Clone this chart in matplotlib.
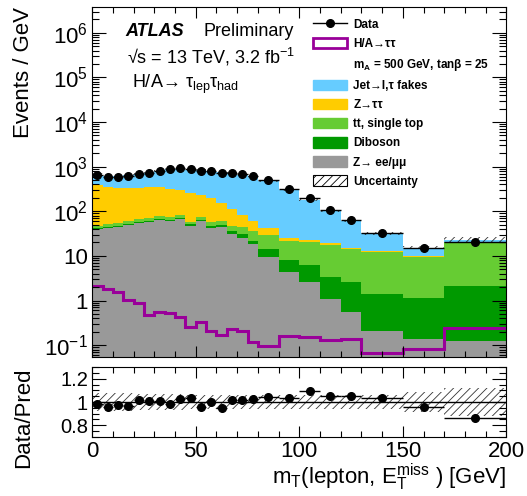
import numpy as np
import matplotlib
matplotlib.use('Agg')
import matplotlib.pyplot as plt
from matplotlib.patches import Patch
from matplotlib.lines import Line2D
from matplotlib.ticker import MultipleLocator, FuncFormatter, FixedLocator

plt.rcParams['font.family'] = ['Liberation Sans', 'DejaVu Sans']
plt.rcParams['mathtext.fontset'] = 'custom'
plt.rcParams['mathtext.rm'] = 'Liberation Sans'
plt.rcParams['mathtext.it'] = 'Liberation Sans:italic'
plt.rcParams['mathtext.bf'] = 'Liberation Sans:bold'
plt.rcParams['hatch.linewidth'] = 0.6

# bin edges in mT [GeV]
edges = [0, 5, 10, 15, 20, 25, 30, 35, 40, 45, 50, 55, 60, 65, 70, 75, 80,
         90, 100, 110, 120, 130, 150, 170, 200]

# events / GeV
data = [648, 594, 594, 625, 682, 730, 809, 869, 916, 869, 797, 797, 730, 730,
        672, 615, 501, 315, 195, 106, 63.5, 33, 14.7, 20.1]
zll = [39.9, 42.0, 44.2, 49.0, 54.4, 57.3, 63.5, 60.3, 66.8, 47.3, 60.3, 42.7,
       44.9, 30.8, 25.5, 18.4, 9.5, 4.4, 2.6, 1.1, 0.56, 0.21, 0.136, 0.123]
diboson = [2.8, 2.9, 3.1, 3.4, 3.8, 3.9, 4.4, 4.2, 4.7, 3.5, 4.8, 3.9, 4.1,
           4.6, 4.8, 3.4, 4.5, 3.6, 3.6, 2.3, 2.0, 1.18, 1.03, 1.98]
top = [5.1, 6.7, 7.1, 7.0, 7.6, 8.1, 8.9, 8.5, 9.4, 7.3, 9.0, 9.8, 11.3, 11.9,
       13.9, 14.7, 15.3, 13.5, 14.5, 14.1, 11.6, 10.8, 8.3, 18.0]
ztt = [339, 291, 272, 267, 270, 274, 277, 237, 218, 194, 157, 139, 90, 63, 38,
       24.7, 12.1, 4.0, 1.9, 1.6, 1.0, 0.6, 0.55, 0.1]
fakes = [270, 276, 285, 320, 333, 383, 450, 571, 592, 589, 605, 602, 618, 610,
         581, 537, 440, 279, 156, 82, 45.4, 19.1, 5.35, 3.0]
signal = [2.14, 1.80, 1.57, 1.02, 0.89, 0.47, 0.56, 0.53, 0.42, 0.257, 0.33,
          0.209, 0.168, 0.228, 0.209, 0.119, 0.095, 0.159, 0.15, 0.129, 0.136,
          0.067, 0.081, 0.237]
# relative uncertainty of the prediction
unc = [0.08, 0.08, 0.08, 0.08, 0.07, 0.07, 0.07, 0.07, 0.07, 0.06, 0.06, 0.06,
       0.06, 0.06, 0.06, 0.06, 0.06, 0.06, 0.06, 0.06, 0.06, 0.06, 0.09, 0.12]

edges = np.array(edges, dtype=float)
centers = 0.5 * (edges[1:] + edges[:-1])
halfw = 0.5 * (edges[1:] - edges[:-1])
data = np.array(data)
unc = np.array(unc)

fig = plt.figure(figsize=(5.27, 4.96), dpi=100)
ax = fig.add_axes([0.175, 0.28, 0.786, 0.706])
rax = fig.add_axes([0.175, 0.119, 0.786, 0.141])

comps = [(zll, '#999999'), (diboson, '#009900'), (top, '#66cc33'),
         (ztt, '#ffcc00'), (fakes, '#66ccff')]
cum = np.zeros(len(data))
for vals, col in comps:
    new = cum + np.array(vals)
    ax.stairs(new, edges, baseline=np.maximum(cum, 1e-3), fill=True,
              color=col, lw=0)
    cum = new
total = cum

ax.stairs(total * (1 + unc), edges, baseline=total * (1 - unc), fill=True,
          facecolor='none', edgecolor='#333333', hatch='////', lw=0)
ax.stairs(signal, edges, baseline=None, color='#990099', lw=2.2)
ax.errorbar(centers, data, xerr=halfw, fmt='o', color='k', ms=5.5,
            elinewidth=1, capsize=0)

ax.set_yscale('log')
ax.set_xlim(0, 200)
ax.set_ylim(0.054, 3.8e6)
# only ticks inside the visible range
decades = 10.0 ** np.arange(-2, 7)
ax.yaxis.set_major_locator(FixedLocator(decades[1:]))
minors = [d * s for d in decades for s in range(2, 10)]
minors = [m for m in minors if 0.054 <= m <= 3.8e6]
ax.yaxis.set_minor_locator(FixedLocator(minors))


def logfmt(v, pos):
    n = int(round(np.log10(v)))
    if n == 0:
        return '1'
    if n == 1:
        return '10'
    return r'$\mathregular{10^{%d}}$' % n


ax.yaxis.set_major_formatter(FuncFormatter(logfmt))
ax.set_ylabel('Events / GeV', fontsize=16, loc='top')
ax.yaxis.set_label_coords(-0.14, 1.0)

# ratio panel
ratio = data / total
rax.stairs(1 + unc, edges, baseline=1 - unc, fill=True, facecolor='none',
           edgecolor='#333333', hatch='////', lw=0)
rax.axhline(1, color='k', lw=1)
rax.errorbar(centers, ratio, xerr=halfw, fmt='o', color='k', ms=5.5,
             elinewidth=1, capsize=0)
rax.set_xlim(0, 200)
rax.set_ylim(0.7, 1.3)
rax.yaxis.set_major_locator(FixedLocator([0.8, 1.0, 1.2]))
rax.yaxis.set_minor_locator(MultipleLocator(0.05))
rax.set_yticklabels(['0.8', '1', '1.2'])
rax.set_ylabel('Data/Pred', fontsize=16, loc='top')
rax.yaxis.set_label_coords(-0.14, 1.0)
rax.set_xlabel(r'm$_{\mathregular{T}}$(lepton, E$_{\mathregular{T}}^{\mathregular{miss}}$ ) [GeV]',
               fontsize=16, loc='right')
rax.xaxis.set_label_coords(1.0, -0.36)

for a in (ax, rax):
    a.xaxis.set_major_locator(MultipleLocator(50))
    a.xaxis.set_minor_locator(MultipleLocator(10))
    a.tick_params(which='both', direction='in', top=True, right=True,
                  labelsize=16, width=0.8, pad=3)
    a.tick_params(axis='x', which='major', length=8)
    a.tick_params(axis='x', which='minor', length=4.3)
    a.tick_params(axis='y', which='major', length=10)
    a.tick_params(axis='y', which='minor', length=5)
ax.tick_params(labelbottom=False)
rax.tick_params(axis='y', labelsize=14.5)

ax.text(0.08, 0.931, 'ATLAS', transform=ax.transAxes, fontsize=13,
        weight='bold', style='italic', va='center')
ax.text(0.268, 0.931, 'Preliminary', transform=ax.transAxes, fontsize=13,
        va='center')
ax.text(0.085, 0.857, r'√s = 13 TeV, 3.2 fb$^{\mathregular{-1}}$',
        transform=ax.transAxes, fontsize=13, va='center')
ax.text(0.095, 0.778, r'H/A→ τ$_{\mathregular{lep}}$τ$_{\mathregular{had}}$',
        transform=ax.transAxes, fontsize=13, va='center')

handles = [
    Line2D([], [], color='k', marker='o', ms=5.5, lw=1),
    Patch(facecolor='white', edgecolor='#990099', lw=2),
    Patch(facecolor='none', edgecolor='none'),
    Patch(color='#66ccff'),
    Patch(color='#ffcc00'),
    Patch(color='#66cc33'),
    Patch(color='#009900'),
    Patch(color='#999999'),
    Patch(facecolor='white', edgecolor='k', hatch='////', lw=0.8),
]
labels = ['Data', 'H/A→ττ', r'm$_{\mathbf{A}}$ = 500 GeV, tanβ = 25',
          'Jet→l,τ fakes', 'Z→ττ', 'tt, single top', 'Diboson',
          'Z→ ee/μμ', 'Uncertainty']
fig.legend(handles, labels, loc='upper left', bbox_to_anchor=(0.594, 0.963),
           frameon=False, prop={'weight': 'bold', 'size': 8.5}, numpoints=1,
           handlelength=2.9, handleheight=1.0, handletextpad=0.5,
           labelspacing=0.58, borderpad=0, borderaxespad=0)

fig.savefig('out.png', dpi=100)
